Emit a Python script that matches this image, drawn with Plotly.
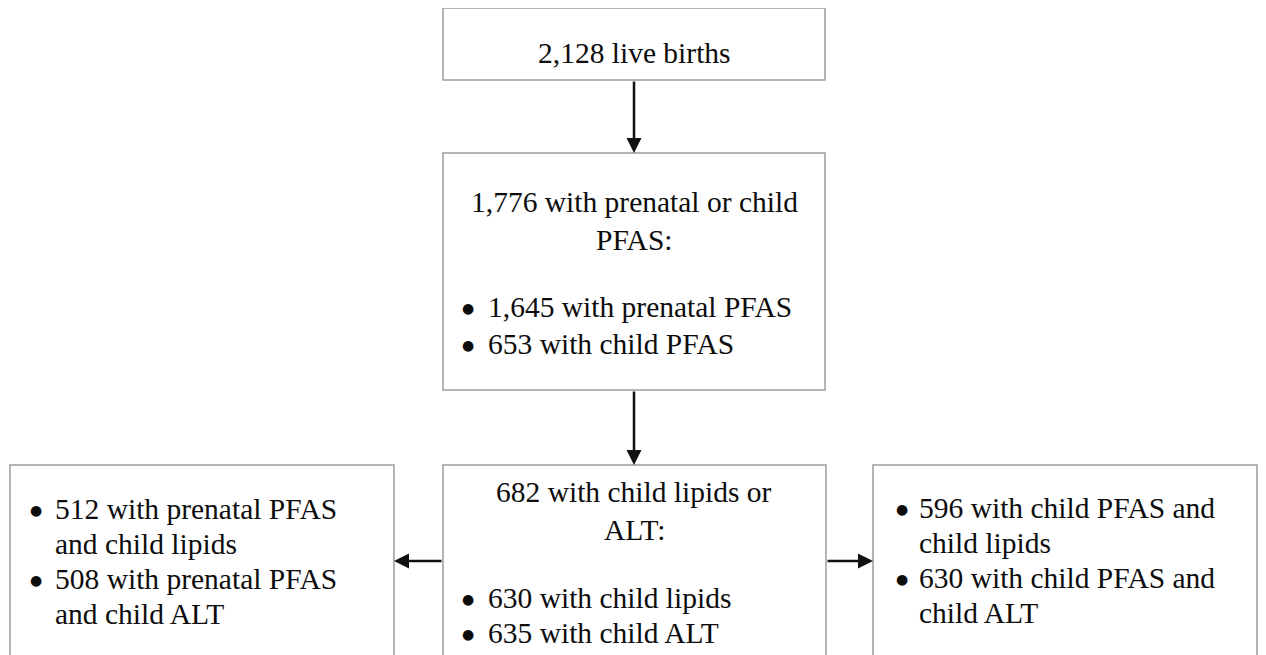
import plotly.graph_objects as go

live_births = 2128
pfas_any = 1776
pfas_prenatal = 1645
pfas_child = 653
outcome_any = 682
child_lipids = 630
child_alt = 635
prenatal_lipids = 512
prenatal_alt = 508
childpfas_lipids = 596
childpfas_alt = 630

def n(v):
    return f"{v:,}"

FONT = dict(family="Liberation Serif", size=29.5, color="#0d0d0d")
BULLET_FONT = dict(family="DejaVu Sans", size=14, color="#0d0d0d")
BOX_LINE = dict(color="#9c9c9c", width=1.5)

fig = go.Figure()

# boxes: (x0, x1, y0, y1)
boxes = [
    (443, 825, 8, 80),
    (443, 825, 153, 390),
    (443, 826, 465, 720),
    (10, 394, 465, 720),
    (873, 1257, 465, 720),
]
for x0, x1, y0, y1 in boxes:
    fig.add_shape(type="rect", xref="x", yref="y", x0=x0, x1=x1, y0=y0, y1=y1,
                  line=BOX_LINE, fillcolor="white", layer="below")

def centered(text, y, x=634):
    fig.add_annotation(x=x, y=y, xref="x", yref="y", text=text, showarrow=False,
                       xanchor="center", yanchor="middle", font=FONT)

def left(text, x, y):
    fig.add_annotation(x=x, y=y, xref="x", yref="y", text=text, showarrow=False,
                       xanchor="left", yanchor="middle", font=FONT)

def bullet(x, y):
    fig.add_annotation(x=x, y=y + 0.5, xref="x", yref="y", text="●", showarrow=False,
                       xanchor="center", yanchor="middle", font=BULLET_FONT)

# box 1
centered(f"{n(live_births)} live births", 53)

# box 2
centered(f"{n(pfas_any)} with prenatal or child", 202)
centered("PFAS:", 240)
bullet(468, 307); left(f"{n(pfas_prenatal)} with prenatal PFAS", 486, 307)
bullet(468, 344); left(f"{n(pfas_child)} with child PFAS", 486, 344)

# box 3 (middle)
centered(f"{n(outcome_any)} with child lipids or", 492)
centered("ALT:", 530)
bullet(468, 598); left(f"{n(child_lipids)} with child lipids", 486, 598)
bullet(468, 633); left(f"{n(child_alt)} with child ALT", 486, 633)

# left box
bullet(36, 509); left(f"{n(prenatal_lipids)} with prenatal PFAS", 53, 509)
left("and child lipids", 53, 544)
bullet(36, 579); left(f"{n(prenatal_alt)} with prenatal PFAS", 53, 579)
left("and child ALT", 53, 614)

# right box
bullet(902, 508); left(f"{n(childpfas_lipids)} with child PFAS and", 917, 508)
left("child lipids", 917, 543)
bullet(902, 578); left(f"{n(childpfas_alt)} with child PFAS and", 917, 578)
left("child ALT", 917, 613)

# arrows: (tail_x, tail_y, head_x, head_y)
arrows = [
    (634, 80, 634, 153),
    (634, 390, 634, 465),
    (443, 561, 394, 561),
    (826, 561, 873, 561),
]
for tx, ty, hx, hy in arrows:
    fig.add_annotation(x=hx, y=hy, ax=tx, ay=ty, xref="x", yref="y", axref="x", ayref="y",
                       text="", showarrow=True, arrowhead=2, arrowsize=1.2,
                       arrowwidth=2.5, arrowcolor="#111111", standoff=0, startstandoff=0)

# the page body has an 8px margin, so the plot area starts 8px in
OFF = 8
fig.update_layout(
    width=1266 - OFF, height=655 - OFF,
    margin=dict(l=0, r=0, t=0, b=0),
    paper_bgcolor="white", plot_bgcolor="white",
    showlegend=False,
    xaxis=dict(range=[OFF, 1266], visible=False, fixedrange=True),
    yaxis=dict(range=[655, OFF], visible=False, fixedrange=True),
)

fig.write_html("out.html")
